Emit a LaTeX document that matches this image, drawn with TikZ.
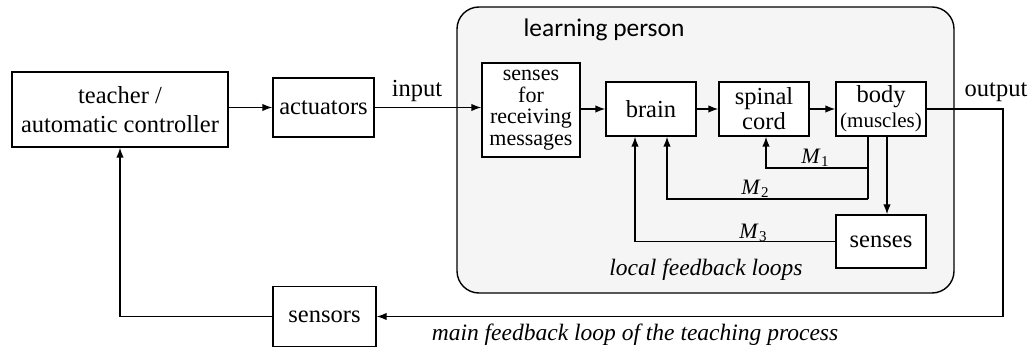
\documentclass[tikz,border=0pt]{standalone}
\usepackage{fontspec}
\setmainfont{Liberation Serif}[Ligatures=TeX]
\newfontfamily\serf{Liberation Serif}
\newfontfamily\calib{Carlito}
\usetikzlibrary{arrows.meta}
\definecolor{personbg}{HTML}{F5F5F5}
\tikzset{
  blk/.style={draw=black, fill=white, line width=1.4pt, inner sep=0pt, align=center,
    font=\serf\fontsize{24.5}{29}\selectfont},
  arr/.style={line width=1.4pt, -{Latex[length=10pt,width=7.5pt]}},
  ln/.style={line width=1.4pt},
  lbl/.style={inner sep=0pt, anchor=base, font=\serf\fontsize{24.5}{29}\selectfont},
  ilbl/.style={inner sep=0pt, anchor=base, font=\serf\fontsize{23.5}{28}\selectfont\itshape},
  mlbl/.style={inner sep=0pt, anchor=base, font=\serf\fontsize{22}{26}\selectfont}
}
\newcommand{\Mlab}[1]{\textit{M}\kern0.5pt\raisebox{-3pt}{\fontsize{15}{18}\selectfont #1}}
\begin{document}
\begin{tikzpicture}[x=1pt,y=-1pt]
\useasboundingbox (0,0) rectangle (1032,355);
% learning person container
\draw[line width=1.4pt, fill=personbg, rounded corners=22pt] (457,7) rectangle (954,293);
\node[inner sep=0pt, anchor=base, font=\calib\fontsize{25.4}{30}\selectfont] (lp) at (604,37) {learning person};

% blocks
\node[blk, minimum width=216pt, minimum height=75pt] (teacher) at (120,109.5) {teacher /\\automatic controller};
\node[blk, minimum width=101pt, minimum height=59pt] (act) at (323.5,107.5) {actuators};
\node[blk, minimum width=98pt, minimum height=94pt, font=\serf\fontsize{22}{21.5}\selectfont] (sens) at (531,110) {senses\\for\\receiving\\messages};
\node[blk, minimum width=90pt, minimum height=54pt] (brain) at (651,109) {brain};
\node[blk, minimum width=90pt, minimum height=54pt, font=\serf\fontsize{24.5}{25}\selectfont] (spinal) at (764,109) {spinal\\cord};
\node[blk, minimum width=90pt, minimum height=54pt, font=\serf\fontsize{24.5}{25}\selectfont] (body) at (881,109) {body\\{\fontsize{21}{25}\selectfont(muscles)}};
\node[blk, minimum width=90pt, minimum height=53pt] (sens2) at (881,241.5) {senses};
\node[blk, minimum width=103pt, minimum height=60pt] (sensors) at (324.5,316.5) {sensors};

% labels
\node[lbl] (in) at (417,97) {input};
\node[lbl] (out) at (996,97) {output};
\node[ilbl] (lfl) at (706,275) {local feedback loops};
\node[ilbl] (mfl) at (635,340) {main feedback loop of the teaching process};
\node[mlbl] (m1) at (815,164) {\Mlab{1}};
\node[mlbl] (m2) at (755,195) {\Mlab{2}};
\node[mlbl] (m3) at (753,238) {\Mlab{3}};

% helper coordinates
\coordinate (outc) at (1003,316.5);
\coordinate (j1) at (868,168);
\coordinate (j2) at (868,199);
\coordinate (m1x) at (766,168);
\coordinate (m2x) at (667,199);
\coordinate (m3x) at (635,242);
\coordinate (x887) at (887,0);

% main path
\draw[arr] (teacher.east |- act.west) -- (act.west);
\draw[arr] (act.east) -- (act.east -| sens.west);
\draw[arr] (sens.east |- brain.west) -- (brain.west);
\draw[arr] (brain.east) -- (spinal.west);
\draw[arr] (spinal.east) -- (body.west);
\draw[arr] (body.east) -| (outc) -- (sensors.east);
\draw[arr] (sensors.west) -| (teacher.south);

% local loops
\draw[ln] (body.south -| j1) -- (j2);
\draw[arr] (j1) -- (m1x) -- (spinal.south -| m1x);
\draw[arr] (j2) -- (m2x) -- (brain.south -| m2x);
\draw[arr] (sens2.west) -| (brain.south -| m3x);
\draw[arr] (body.south -| x887) -- (sens2.north -| x887);
\end{tikzpicture}
\end{document}
